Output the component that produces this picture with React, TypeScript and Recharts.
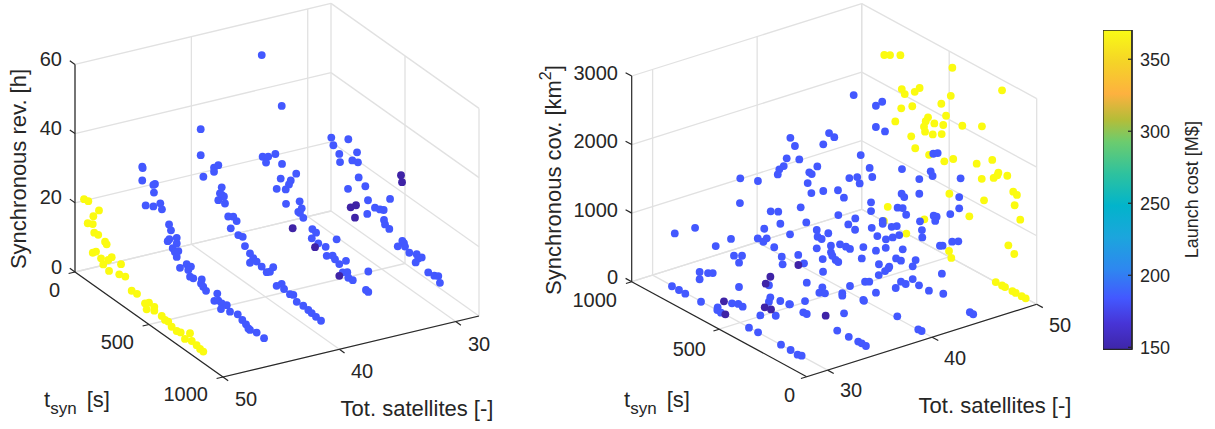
import { Bar, BarChart, ReferenceLine, Scatter, ScatterChart, XAxis, YAxis } from "recharts";

// tot. satellites of each design family
const revSats = { a: 50, b: 44.5, c: 40.1, d: 34.6, e: 30.2 };
const covSats = { a: 50, b: 44.83, c: 39.88, d: 34.82, e: 29.76 };

const satTicks = [30, 40, 50];
const tsynTicks = [0, 500, 1000];
const revTicks = [0, 20, 40, 60];
const covTicks = [0, 1000, 2000, 3000];
const costTicks = [150, 200, 250, 300, 350];

// [tsyn s, synchronous rev. h]
const revSat50 = [
  [61, 22.9], [90, 23.2], [162, 22.7], [124, 19.9], [86, 16.7], [120, 17.5], [130, 15.3], [157, 15.5], [203, 14.9], [214, 14.5],
  [120, 9.2], [142, 10.2], [176, 9.3], [248, 11.8], [225, 10.3], [191, 8], [311, 11.7], [230, 7.3], [299, 8.4], [340, 9],
  [383, 6.2], [419, 6.4], [473, 5.3], [500, 6.3], [536, 6.2], [484, 3.9], [536, 5.1], [586, 5.1], [608, 4.6], [630, 4.8],
  [653, 4], [687, 3.8], [714, 4.2], [777, 5.9], [743, 3.2], [789, 4], [822, 3.8], [845, 3.4], [867, 3.3],
];
const revSat45 = [
  [22, 26.7], [25, 26.4], [22, 22.7], [108, 24.3], [97, 23.7], [101, 21.6], [45, 16.2], [97, 17.5], [144, 19.8], [155, 18.4],
  [203, 15.5], [216, 14.2], [255, 13.2], [194, 10.4], [205, 11.3], [255, 11.6], [228, 9.4], [266, 9.7], [243, 8.7], [255, 7.7],
  [277, 5.2], [322, 7.6], [351, 7.8], [333, 6.3], [367, 4.9], [345, 4.7], [424, 6.3], [419, 5], [434, 4.5], [453, 3.9],
  [529, 5.4], [509, 2.7], [536, 3.6], [559, 3.5], [554, 1.7], [593, 4], [615, 2.8], [667, 3.6], [698, 2.9], [723, 2.4],
  [739, 1.7], [750, 1.6], [795, 2.2], [845, 2.1],
];
const revSat40 = [
  [71, 35.5], [71, 28], [89, 22.3], [161, 27.1], [190, 28.7], [161, 25.9], [213, 23], [190, 18.6], [213, 20.8], [228, 20.8],
  [235, 19], [201, 20.9], [257, 15.9], [291, 16.9], [314, 16.3], [274, 13], [325, 12.6], [355, 13], [370, 10.8], [404, 9.7],
  [426, 9], [404, 7], [449, 8.7], [483, 8.3], [517, 7.7], [539, 8.5], [561, 10.5], [584, 5.8], [618, 7.4], [634, 6.4],
  [674, 6.1], [697, 6.6], [720, 5.3], [764, 5.5], [798, 5.3], [821, 5.1], [850, 4.9], [884, 4.8],
];
const revSat35 = [
  [51, 51.9], [186, 41.3], [57, 22.7], [95, 23.9], [80, 21.7], [143, 26.1], [188, 24.6], [179, 20.1], [247, 21.6], [235, 20.1],
  [152, 16.3], [213, 18], [284, 24.7], [215, 13.9], [307, 17.4], [321, 15.8], [298, 14.1], [309, 14.1], [332, 13.4], [393, 12],
  [418, 11.7], [389, 9.2], [433, 9.1], [483, 9.6], [557, 14], [490, 7.2], [530, 8.5], [546, 7.9], [575, 7.4], [620, 9.7],
  [598, 5.7], [629, 6.7], [636, 5.3], [666, 5.5], [771, 11.2], [755, 5.4], [771, 5.3],
];
const revSat30 = [
  [175, 28.3], [189, 26.5], [290, 31.3], [229, 25.2], [234, 23], [349, 29.3], [317, 26], [355, 26.6], [360, 22.4], [405, 21.2],
  [288, 16.9], [423, 17.7], [418, 13.6], [470, 17], [504, 17.5], [529, 18.1], [572, 22.6], [531, 15.3], [538, 14.2], [567, 13.8],
  [655, 13], [666, 12.7], [624, 10.5], [673, 11.9], [702, 11], [752, 12.1], [786, 12.2], [763, 11.2], [745, 9.5], [830, 9.2],
  [871, 9.5], [898, 10.2], [909, 8.6],
];
const revLowCost35 = [[260, 8.2], [411, 7.3], [575, 4]];
const revLowCost30 = [[306, 12.1], [342, 13.8], [335, 10], [646, 31.7], [653, 29.9]];

// [tsyn s, synchronous cov. km2]
const covSat50 = [
  [871, 2429], [838, 2474], [779, 2554], [482, 2782], [198, 2846], [771, 2070], [754, 2021], [697, 2133], [669, 2228], [491, 2360],
  [545, 2170], [711, 1903], [774, 1786], [518, 2032], [621, 1866], [634, 1793], [808, 1548], [585, 1828], [534, 1875], [644, 1697],
  [425, 2015], [313, 2162], [638, 1633], [594, 1655], [543, 1731], [717, 1457], [694, 1314], [615, 1328], [528, 1353], [477, 1458],
  [343, 1575], [254, 1753], [314, 1395], [246, 1502], [219, 1615], [225, 1569], [168, 1642], [134, 1457], [113, 1438], [126, 1270],
  [301, 1099], [499, 921], [385, 749], [94, 1104], [851, 243], [642, 350], [873, 5], [745, 0], [501, 83], [488, 0],
  [162, 636], [128, 556], [234, 0], [198, 0], [181, 0], [139, 0], [120, 0], [86, 0], [63, 0],
];
const covSat45 = [
  [347, 850], [345, 746], [383, 363], [244, 764], [229, 786], [174, 920], [139, 974], [233, 372], [307, 22], [225, 90],
  [73, 31], [54, 28], [737, 2279], [574, 2407], [610, 2299], [610, 1989], [558, 1997], [461, 1582], [362, 1573], [362, 1359],
  [297, 1776], [286, 1723], [282, 2053], [257, 2098], [126, 1911], [134, 1627], [134, 1462], [463, 1219], [448, 1191], [486, 984],
  [457, 1019], [437, 949], [280, 1152], [263, 1161], [271, 1088], [185, 1308], [571, 675], [571, 631], [358, 962],
];
const covSat40 = [
  [803, 1801], [777, 1718], [824, 1473], [752, 1557], [841, 1337], [866, 1254], [875, 1168], [744, 869], [805, 391], [758, 155],
  [338, 1133], [306, 1057], [257, 1077], [218, 1159], [181, 1245], [224, 1306], [195, 1356], [386, 786], [314, 833], [258, 952],
  [161, 1064], [725, 79], [395, 608], [199, 879], [171, 885], [297, 658], [104, 895], [238, 704], [243, 674], [262, 608],
  [298, 499], [171, 579], [144, 582], [104, 710], [68, 668], [314, 220], [201, 445], [192, 44], [72, 20], [53, 23],
  [582, 2177], [552, 2159], [615, 1967], [401, 2107], [350, 1989], [335, 1878], [649, 1598], [695, 1448], [681, 1442], [704, 1279],
  [466, 1681], [421, 1758], [407, 1685], [683, 1162], [615, 1286], [531, 1413], [497, 1352], [342, 1499], [342, 1372], [529, 1054],
  [432, 1140], [472, 997], [712, 694],
];
const covSat35 = [
  [787, 1475], [789, 1112], [840, 518], [823, 297], [777, 360], [794, 235], [686, 1576], [613, 1235], [570, 1289], [558, 1130],
  [650, 930], [687, 738], [636, 809], [655, 733], [593, 739], [550, 660], [545, 557], [623, 143], [350, 1327], [284, 1371],
  [345, 1236], [322, 1235], [131, 1634], [350, 1060], [269, 1210], [217, 1302], [183, 1315], [160, 1314], [269, 1114], [261, 1075],
  [316, 951], [242, 1040], [227, 1031], [314, 768], [407, 480], [160, 774], [74, 955], [50, 989], [318, 535], [335, 433],
  [303, 469], [204, 607], [204, 572], [417, 198], [503, 32], [84, 675], [80, 669], [427, 20], [407, 23], [194, 328],
  [233, 22], [167, 23], [113, 28], [93, 31], [69, 25],
];
const covSat30 = [
  [743, 1058], [859, 815], [717, 449], [669, 500], [642, 538], [717, 343], [875, 22], [835, 23], [799, 19], [709, 26],
  [625, 955], [614, 77], [616, 35], [595, 25], [532, 249], [496, 289], [471, 284], [435, 28], [383, 32], [252, 34],
  [197, 32], [157, 19], [134, 36], [370, 297], [282, 414], [492, 542], [313, 639], [321, 564], [256, 665], [205, 688],
];
const covLowCost35 = [[615, 278], [642, 140], [455, 671], [299, 149]];
const covLowCost30 = [[578, 214], [570, 35], [345, 449], [309, 469]];

const BLUE = "#4358FF";
const DARK = "#3F23A6";
const YELLOW = "#FBFB10";
const GRID = "#E1E1E1";
const INK = "#262626";
const FONT = "'Liberation Sans', Arial, sans-serif";
const SAT_MIN = 28;
const SAT_MAX = 50;

// parula, sampled along the colorbar
const parulaStops: [number, string][] = [
  [0, "#3E26A8"], [0.08, "#4734D6"], [0.16, "#4358FF"], [0.25, "#2E87F0"], [0.35, "#1CA5DD"], [0.45, "#02B4CB"],
  [0.55, "#2EC29E"], [0.65, "#6CCC6E"], [0.72, "#B5BD38"], [0.8, "#FDB13F"], [0.9, "#F5D427"], [1, "#F9FB15"],
];

type View = {
  origin: number[];
  sat: number[];
  tsyn: number[];
  valueRange: number;
  valuePx: number;
  wallSat: number;
  wallTsyn: number;
};

// orthographic camera of each box: origin is sat=SAT_MIN, tsyn=0, value=0
const revView: View = { origin: [331, 211], sat: [-256, 61], tsyn: [148, 105], valueRange: 60, valuePx: 207.6, wallSat: SAT_MIN, wallTsyn: 0 };
const covView: View = { origin: [806.7, 376.7], sat: [230, -72.4], tsyn: [-175, -95], valueRange: 3000, valuePx: 205.7, wallSat: SAT_MAX, wallTsyn: 1000 };

const project = (v: View, sat: number, tsyn: number, value: number) => {
  const s = (sat - SAT_MIN) / (SAT_MAX - SAT_MIN);
  return {
    px: v.origin[0] + v.sat[0] * s + (v.tsyn[0] * tsyn) / 1000,
    py: v.origin[1] + v.sat[1] * s + (v.tsyn[1] * tsyn) / 1000 - (v.valuePx * value) / v.valueRange,
  };
};

type TextMark = { text: string; x: number; y: number; anchor?: string; kind?: string };

const revLabels: TextMark[] = [
  { text: "60", x: 62, y: 59, anchor: "end" },
  { text: "40", x: 62, y: 128, anchor: "end" },
  { text: "20", x: 62, y: 197, anchor: "end" },
  { text: "0", x: 62, y: 267, anchor: "end" },
  { text: "0", x: 60, y: 290, anchor: "end" },
  { text: "500", x: 134, y: 342, anchor: "end" },
  { text: "1000", x: 208, y: 394, anchor: "end" },
  { text: "50", x: 246, y: 399 },
  { text: "40", x: 362, y: 371 },
  { text: "30", x: 479, y: 344 },
  { text: "Tot. satellites [-]", x: 417, y: 408, kind: "title" },
  { text: "", x: 44, y: 399, kind: "tsyn" },
  { text: "Synchronous rev. [h]", x: 18, y: 169, kind: "vertical" },
];

const covLabels: TextMark[] = [
  { text: "3000", x: 618, y: 73, anchor: "end" },
  { text: "2000", x: 618, y: 141, anchor: "end" },
  { text: "1000", x: 618, y: 210, anchor: "end" },
  { text: "0", x: 618, y: 277, anchor: "end" },
  { text: "1000", x: 617, y: 300, anchor: "end" },
  { text: "500", x: 706, y: 349, anchor: "end" },
  { text: "0", x: 795, y: 395, anchor: "end" },
  { text: "30", x: 851, y: 390 },
  { text: "40", x: 955, y: 358 },
  { text: "50", x: 1060, y: 325 },
  { text: "Tot. satellites [-]", x: 995, y: 405, kind: "title" },
  { text: "", x: 624, y: 399, kind: "tsyn" },
  { text: "cov", x: 553, y: 180, kind: "km2" },
];

const makeDot = (fill: string) => (p: any) => <circle cx={p.cx} cy={p.cy} r={3.9} fill={fill} />;

const TextShape = (p: any) => {
  const m: TextMark = p.payload;
  const base = { fill: INK, fontFamily: FONT };
  if (m.kind === "tsyn") {
    return (
      <text x={p.cx} y={p.cy} dominantBaseline="central" fontSize={22} {...base}>
        t
        <tspan dy={9} fontSize={17}>syn</tspan>
        <tspan dy={-9} dx={4}> [s]</tspan>
      </text>
    );
  }
  if (m.kind === "vertical" || m.kind === "km2") {
    return (
      <text x={p.cx} y={p.cy} textAnchor="middle" dominantBaseline="central" fontSize={22} transform={`rotate(-90 ${p.cx} ${p.cy})`} {...base}>
        {m.kind === "km2" ? (
          <>
            Synchronous cov. [km
            <tspan dy={-8} fontSize={16}>2</tspan>
            <tspan dy={8}>]</tspan>
          </>
        ) : (
          m.text
        )}
      </text>
    );
  }
  return (
    <text x={p.cx} y={p.cy} textAnchor={m.kind === "title" ? "middle" : m.anchor || "middle"} dominantBaseline="central" fontSize={m.kind === "title" ? 22 : 20} {...base}>
      {m.text}
    </text>
  );
};

const Box = ({ view, left, width, height, valueTicks, layers, labels }: any) => {
  const frontSat = view.wallSat === SAT_MIN ? SAT_MAX : SAT_MIN;
  const frontTsyn = view.wallTsyn === 0 ? 1000 : 0;
  const top = view.valueRange;
  const toChart = (p: { px: number; py: number }) => ({ x: p.px - left, y: p.py });
  const seg = (a: number[], b: number[]) => [toChart(project(view, a[0], a[1], a[2])), toChart(project(view, b[0], b[1], b[2]))];

  const grid: any[] = [];
  valueTicks.forEach((v: number) => {
    grid.push(seg([frontSat, view.wallTsyn, v], [view.wallSat, view.wallTsyn, v]));
    grid.push(seg([view.wallSat, view.wallTsyn, v], [view.wallSat, frontTsyn, v]));
  });
  satTicks.forEach((s) => {
    grid.push(seg([s, view.wallTsyn, 0], [s, frontTsyn, 0]));
    grid.push(seg([s, view.wallTsyn, 0], [s, view.wallTsyn, top]));
  });
  tsynTicks.forEach((t) => {
    grid.push(seg([frontSat, t, 0], [view.wallSat, t, 0]));
    grid.push(seg([view.wallSat, t, 0], [view.wallSat, t, top]));
  });

  const axes = [
    seg([frontSat, view.wallTsyn, 0], [frontSat, view.wallTsyn, top]),
    seg([frontSat, view.wallTsyn, 0], [frontSat, frontTsyn, 0]),
    seg([frontSat, frontTsyn, 0], [view.wallSat, frontTsyn, 0]),
  ];
  const tOut = view.wallTsyn + (view.wallTsyn - frontTsyn) * 0.035;
  const tFront = frontTsyn + (frontTsyn - view.wallTsyn) * 0.035;
  const sOut = frontSat + (frontSat - view.wallSat) * 0.025;
  valueTicks.forEach((v: number) => axes.push(seg([frontSat, view.wallTsyn, v], [frontSat, tOut, v])));
  tsynTicks.forEach((t) => axes.push(seg([frontSat, t, 0], [sOut, t, 0])));
  satTicks.forEach((s) => axes.push(seg([s, frontTsyn, 0], [s, tFront, 0])));

  return (
    <div style={{ position: "absolute", left, top: 0 }}>
      <ScatterChart width={width} height={height} margin={{ top: 0, right: 0, bottom: 0, left: 0 }}>
        <XAxis type="number" dataKey="px" domain={[0, width]} hide />
        <YAxis type="number" dataKey="py" domain={[0, height]} reversed hide />
        {grid.map((s, i) => (
          <ReferenceLine key={`g${i}`} segment={s} stroke={GRID} strokeWidth={1.3} ifOverflow="visible" />
        ))}
        {axes.map((s, i) => (
          <ReferenceLine key={`a${i}`} segment={s} stroke={INK} strokeWidth={1.2} ifOverflow="visible" />
        ))}
        {layers.map((l: any, i: number) => (
          <Scatter
            key={i}
            data={l.points.map((d: number[]) => {
              const p = project(view, l.sat, d[0], d[1]);
              return { px: p.px - left, py: p.py };
            })}
            shape={makeDot(l.color)}
            isAnimationActive={false}
          />
        ))}
        <Scatter
          data={labels.map((m: TextMark) => ({ ...m, px: m.x - left, py: m.y }))}
          shape={TextShape}
          isAnimationActive={false}
        />
      </ScatterChart>
    </div>
  );
};

const revLayers = [
  { sat: revSats.e, points: revSat30, color: BLUE },
  { sat: revSats.d, points: revSat35, color: BLUE },
  { sat: revSats.c, points: revSat40, color: BLUE },
  { sat: revSats.b, points: revSat45, color: BLUE },
  { sat: revSats.a, points: revSat50, color: YELLOW },
  { sat: revSats.d, points: revLowCost35, color: DARK },
  { sat: revSats.e, points: revLowCost30, color: DARK },
];

const covLayers = [
  { sat: covSats.a, points: covSat50, color: YELLOW },
  { sat: covSats.b, points: covSat45, color: BLUE },
  { sat: covSats.c, points: covSat40, color: BLUE },
  { sat: covSats.d, points: covSat35, color: BLUE },
  { sat: covSats.e, points: covSat30, color: BLUE },
  { sat: covSats.d, points: covLowCost35, color: DARK },
  { sat: covSats.e, points: covLowCost30, color: DARK },
];

const colorbarRange = [{ name: "cost", span: [148.6, 370.3] }];

const Colorbar = () => (
  <div style={{ position: "absolute", left: 1103, top: 30 }}>
    <BarChart width={112} height={332} data={colorbarRange} margin={{ top: 0, right: 0, bottom: 12.7, left: 0 }} barCategoryGap={0}>
      <defs>
        <linearGradient id="parula" x1="0" y1="1" x2="0" y2="0">
          {parulaStops.map(([o, c]) => (
            <stop key={o} offset={o} stopColor={c} />
          ))}
        </linearGradient>
      </defs>
      <XAxis dataKey="name" hide />
      <YAxis
        orientation="right"
        width={83}
        domain={[148.6, 370.3]}
        ticks={costTicks}
        tickSize={-4}
        tickMargin={12}
        interval={0}
        axisLine={{ stroke: INK, strokeWidth: 1.3 }}
        tickLine={{ stroke: INK, strokeWidth: 1.2 }}
        tick={{ fill: INK, fontSize: 18, fontFamily: FONT }}
        label={{ value: "Launch cost [M$]", angle: -90, position: "center", dx: 18, fill: INK, fontSize: 18, fontFamily: FONT }}
      />
      <Bar dataKey="span" fill="url(#parula)" stroke={INK} strokeWidth={1.3} isAnimationActive={false} />
    </BarChart>
  </div>
);

export default function App() {
  return (
    <div style={{ position: "fixed", left: 0, top: 0, width: 1215, height: 429, background: "#fff", overflow: "hidden" }}>
      <Box view={revView} left={0} width={520} height={429} valueTicks={revTicks} layers={revLayers} labels={revLabels} />
      <Box view={covView} left={520} width={560} height={429} valueTicks={covTicks} layers={covLayers} labels={covLabels} />
      <Colorbar />
    </div>
  );
}
